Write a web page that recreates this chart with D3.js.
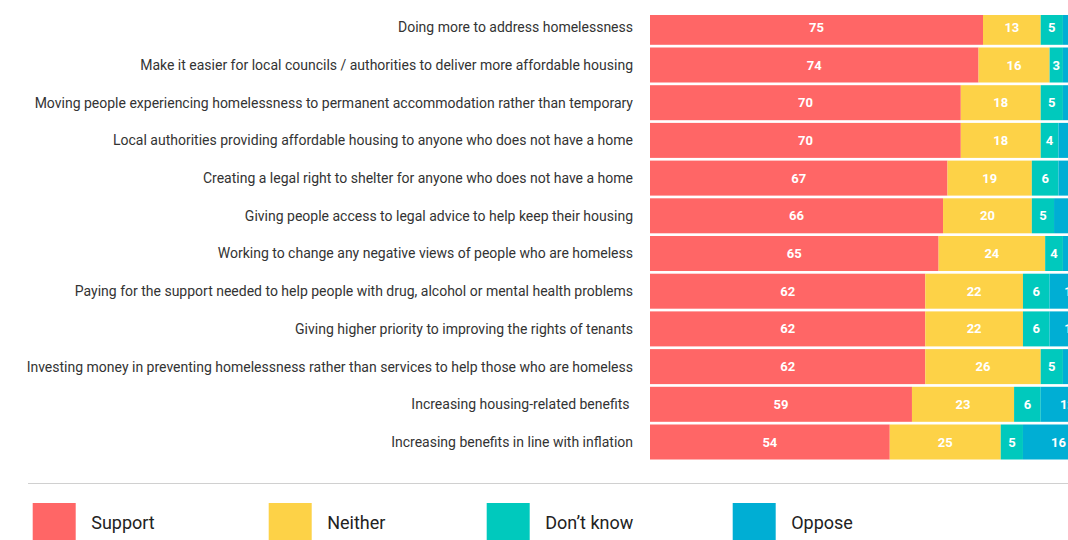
<!DOCTYPE html>
<html><head><meta charset="utf-8">
<script src="https://cdn.jsdelivr.net/npm/d3@7"></script>
<style>html,body{margin:0;padding:0;background:#fff;overflow:hidden}svg{display:block}</style>
</head><body>
<svg id="chart" width="1068" height="540"></svg>
<script>
const categories = [
  "Doing more to address homelessness",
  "Make it easier for local councils / authorities to deliver more affordable housing",
  "Moving people experiencing homelessness to permanent accommodation rather than temporary",
  "Local authorities providing affordable housing to anyone who does not have a home",
  "Creating a legal right to shelter for anyone who does not have a home",
  "Giving people access to legal advice to help keep their housing",
  "Working to change any negative views of people who are homeless",
  "Paying for the support needed to help people with drug, alcohol or mental health problems",
  "Giving higher priority to improving the rights of tenants",
  "Investing money in preventing homelessness rather than services to help those who are homeless",
  "Increasing housing-related benefits ",
  "Increasing benefits in line with inflation"
];
const seriesNames = ["Support", "Neither", "Don\u2019t know", "Oppose"];
const support  = [75, 74, 70, 70, 67, 66, 65, 62, 62, 62, 59, 54];
const neither  = [13, 16, 18, 18, 19, 20, 24, 22, 22, 26, 23, 25];
const dontKnow = [5, 3, 5, 4, 6, 5, 4, 6, 6, 5, 6, 5];
const oppose   = [7, 7, 7, 8, 8, 9, 7, 10, 10, 7, 12, 16];
const colors = ["#ff6666", "#fdd247", "#00c9bd", "#00aed4"];

const rows = categories.map((c, i) => ({
  cat: c, "Support": support[i], "Neither": neither[i], "Don\u2019t know": dontKnow[i], "Oppose": oppose[i]
}));
const stack = d3.stack().keys(seriesNames)(rows);

const svg = d3.select("#chart");
const W = 1068, H = 540;
const x0 = 650;
const x = d3.scaleLinear().domain([0, 100]).range([x0, x0 + 444]);
const step = 37.7, gap = 2.7, top0 = 9.8;
const y = d3.scaleBand().domain(categories)
  .range([top0, top0 + step * categories.length - gap])
  .paddingInner(gap / step).paddingOuter(0);

svg.append("defs").append("clipPath").attr("id", "clip")
  .append("rect").attr("x", 0).attr("y", 15).attr("width", W).attr("height", H - 15);

const g = svg.append("g").attr("clip-path", "url(#clip)");
const font = "Roboto, 'Noto Sans', sans-serif";

stack.forEach((layer, k) => {
  const lg = g.append("g");
  lg.selectAll("rect").data(layer).join("rect")
    .attr("x", d => x(d[0]))
    .attr("y", d => y(d.data.cat))
    .attr("width", d => x(d[1]) - x(d[0]))
    .attr("height", y.bandwidth())
    .attr("fill", colors[k]);
  lg.selectAll("text").data(layer).join("text")
    .attr("x", d => (x(d[0]) + x(d[1])) / 2)
    .attr("y", d => y(d.data.cat) + y.bandwidth() / 2)
    .attr("dy", "0.35em")
    .attr("text-anchor", "middle")
    .attr("fill", "#fff")
    .attr("font-family", font)
    .attr("font-weight", "bold")
    .attr("font-size", 13)
    .text(d => d[1] - d[0]);
});

svg.append("g").selectAll("text").data(categories).join("text")
  .attr("x", 633)
  .attr("y", d => y(d) + y.bandwidth() / 2)
  .attr("dy", "0.35em")
  .attr("text-anchor", "end")
  .attr("fill", "#333")
  .attr("font-family", font)
  .attr("font-size", 14)
  .style("white-space", "pre")
  .text(d => d);

// separator
svg.append("line").attr("x1", 28).attr("x2", W).attr("y1", 483.5).attr("y2", 483.5)
  .attr("stroke", "#d0d0d0").attr("stroke-width", 1);

// legend
const legendX = [32.7, 268.7, 486.7, 732.7];
const leg = svg.append("g").selectAll("g").data(seriesNames).join("g")
  .attr("transform", (d, i) => `translate(${legendX[i]},503)`);
leg.append("rect").attr("width", 43).attr("height", 43).attr("fill", (d, i) => colors[i]);
leg.append("text").attr("x", 58.5).attr("y", 20).attr("dy", "0.35em")
  .attr("fill", "#222").attr("font-family", font).attr("font-size", 18)
  .text(d => d);
</script>
</body></html>
